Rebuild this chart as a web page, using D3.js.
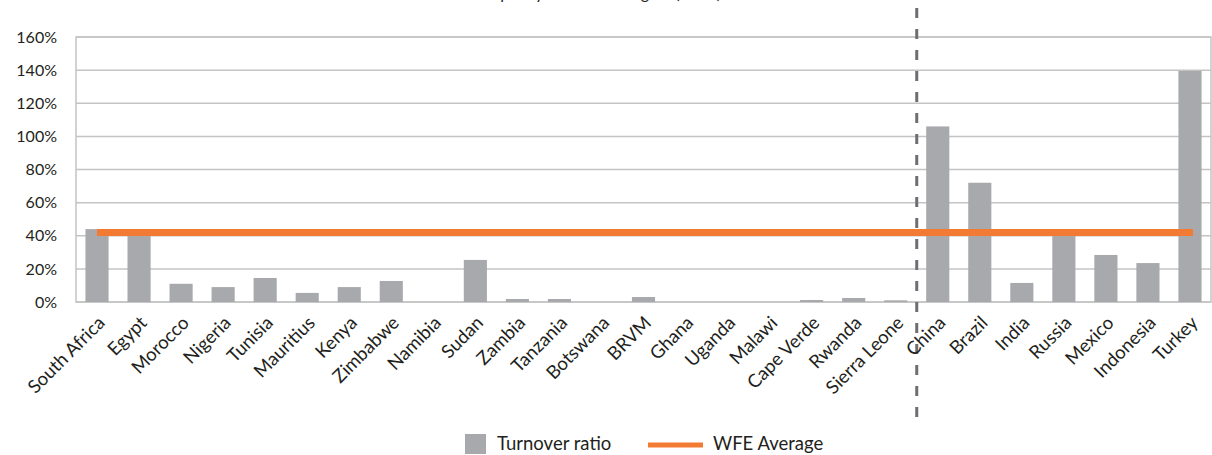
<!DOCTYPE html>
<html>
<head>
<meta charset="utf-8">
<script src="https://cdn.jsdelivr.net/npm/d3@7"></script>
<style>
  html, body { margin: 0; padding: 0; background: #ffffff; }
  svg { display: block; font-family: Lato, "Open Sans", sans-serif; }
</style>
</head>
<body>
<svg id="chart" width="1212" height="455"></svg>
<script>
const titleText = "What is the liquidity in the exchanges? (2011)";
const categories = ["South Africa","Egypt","Morocco","Nigeria","Tunisia","Mauritius","Kenya","Zimbabwe","Namibia","Sudan","Zambia","Tanzania","Botswana","BRVM","Ghana","Uganda","Malawi","Cape Verde","Rwanda","Sierra Leone","China","Brazil","India","Russia","Mexico","Indonesia","Turkey"];
const turnoverRatio = [44, 41, 11, 9, 14.5, 5.5, 9, 12.7, 0, 25.4, 1.8, 1.8, 0, 3, 0, 0, 0, 1.2, 2.4, 1, 106, 72, 11.5, 40.5, 28.4, 23.5, 139.5];
const wfeAverage = categories.map(() => 42);
const yTicks = [0, 20, 40, 60, 80, 100, 120, 140, 160];
const dividerAfter = "Sierra Leone";
const seriesNames = ["Turnover ratio", "WFE Average"];

(function () {
const svg = d3.select("#chart");
const pLeft = 76, pRight = 1211, pTop = 37, pBottom = 302;

const x = d3.scaleBand().domain(categories).range([pLeft, pRight]).paddingInner(0.45).paddingOuter(0.225);
const y = d3.scaleLinear().domain([0, 160]).range([pBottom, pTop]);
const xc = d => x(d) + x.bandwidth() / 2;
const step = x.step();

// Title (cut off at top in reference)
svg.append("text").attr("x", 721).attr("y", -1.5).attr("text-anchor", "end")
  .attr("font-size", 16).attr("fill", "#231f20").text(titleText);

// gridlines
svg.append("g").selectAll("line").data(yTicks).join("line")
  .attr("x1", pLeft).attr("x2", pRight)
  .attr("y1", d => y(d)).attr("y2", d => y(d))
  .attr("stroke", "#c4c4c4").attr("stroke-width", 1.5);
// border
svg.append("rect").attr("x", pLeft).attr("y", pTop).attr("width", pRight - pLeft).attr("height", pBottom - pTop)
  .attr("fill", "none").attr("stroke", "#c4c4c4").attr("stroke-width", 1.5);

// y axis labels
const yAxis = d3.axisLeft(y).tickValues(yTicks).tickFormat(d => d + "%").tickSize(0).tickPadding(0);
const yg = svg.append("g").attr("transform", `translate(${pLeft - 19},0)`).call(yAxis);
yg.select(".domain").remove();
yg.selectAll("text").attr("font-size", 16).attr("fill", "#231f20").attr("font-family", "Lato, sans-serif");

// bars
svg.append("g").selectAll("rect").data(categories).join("rect")
  .attr("x", d => x(d)).attr("width", x.bandwidth())
  .attr("y", (d, i) => y(turnoverRatio[i]))
  .attr("height", (d, i) => y(0) - y(turnoverRatio[i]))
  .attr("fill", "#a7a9ac");

// WFE average line
const line = d3.line().x((d, i) => xc(categories[i]) + (i === categories.length - 1 ? 3 : 0)).y(d => y(d));
svg.append("path").datum(wfeAverage).attr("d", line)
  .attr("fill", "none").attr("stroke", "#f37a32").attr("stroke-width", 7);

// divider
const divX = x(dividerAfter) + x.bandwidth() + (step - x.bandwidth()) / 2;
svg.append("line").attr("x1", divX).attr("x2", divX).attr("y1", 8).attr("y2", 423)
  .attr("stroke", "#6d6e71").attr("stroke-width", 3).attr("stroke-dasharray", "10,11");

// x labels
svg.append("g").selectAll("text").data(categories).join("text")
  .attr("transform", d => `translate(${xc(d) + 9},${324}) rotate(-45)`)
  .attr("text-anchor", "end").attr("font-size", 18.5).attr("fill", "#231f20")
  .text(d => d);

// legend
const lg = svg.append("g");
lg.append("rect").attr("x", 465).attr("y", 434).attr("width", 21).attr("height", 20).attr("fill", "#a7a9ac");
lg.append("text").attr("x", 497).attr("y", 450).attr("font-size", 18.5).attr("fill", "#231f20").text(seriesNames[0]);
lg.append("line").attr("x1", 648).attr("x2", 703).attr("y1", 445).attr("y2", 445)
  .attr("stroke", "#f37a32").attr("stroke-width", 5);
lg.append("text").attr("x", 713).attr("y", 450).attr("font-size", 18.5).attr("fill", "#231f20").text(seriesNames[1]);
})();
</script>
</body>
</html>
